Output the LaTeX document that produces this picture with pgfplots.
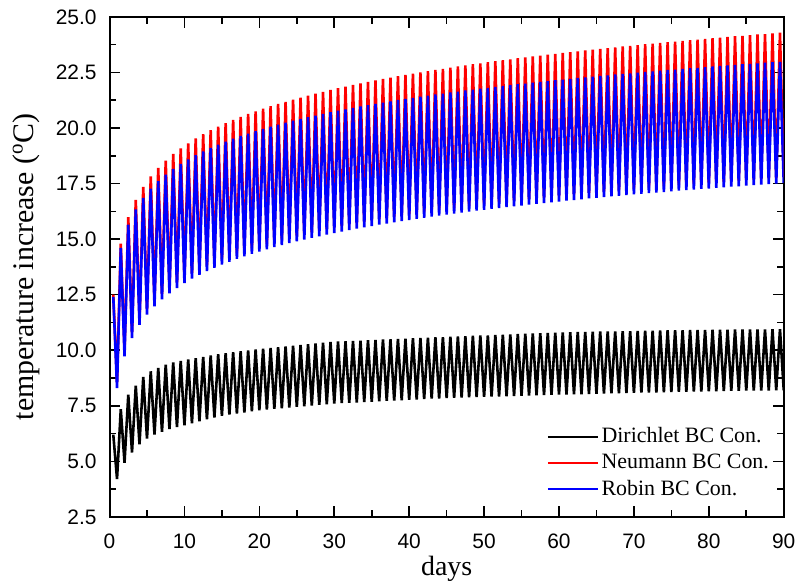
\documentclass[border=0pt]{standalone}
\usepackage{fontspec}
\setmainfont{Liberation Serif}
\setsansfont{Liberation Sans}
\usepackage{pgfplots}
\usepackage{pgfplotstable}
\pgfplotsset{compat=1.18}

% t, Dirichlet, Neumann, Robin (daily minima at whole days, maxima at half days)
\pgfplotstableread{
t d n r
0.5 6.20 12.50 12.40
1 4.20 8.55 8.30
1.5 7.35 14.80 14.60
2 4.93 9.97 9.72
2.5 8.00 15.99 15.65
3 5.40 10.80 10.55
3.5 8.40 16.77 16.34
4 5.77 11.39 11.14
4.5 8.80 17.35 16.85
5 6.02 11.85 11.60
5.5 9.05 17.82 17.27
6 6.20 12.22 11.97
6.5 9.20 18.20 17.61
7 6.33 12.54 12.29
7.5 9.35 18.53 17.90
8 6.45 12.81 12.56
8.5 9.45 18.83 18.16
9 6.54 13.05 12.80
9.5 9.52 19.08 18.38
10 6.62 13.27 13.02
10.5 9.58 19.31 18.59
11 6.71 13.47 13.22
11.5 9.64 19.53 18.78
12 6.80 13.64 13.39
12.5 9.70 19.72 18.95
13 6.89 13.81 13.56
13.5 9.76 19.90 19.11
14 6.97 13.96 13.71
14.5 9.82 20.06 19.25
15 7.05 14.10 13.85
15.5 9.87 20.22 19.39
16 7.10 14.23 13.98
16.5 9.91 20.36 19.52
17 7.15 14.36 14.11
17.5 9.95 20.50 19.64
18 7.20 14.47 14.22
18.5 9.99 20.63 19.75
19 7.25 14.59 14.34
19.5 10.03 20.75 19.86
20 7.30 14.69 14.44
20.5 10.07 20.87 19.96
21 7.33 14.79 14.54
21.5 10.10 20.98 20.06
22 7.36 14.89 14.64
22.5 10.14 21.08 20.15
23 7.39 14.98 14.73
23.5 10.17 21.18 20.24
24 7.42 15.07 14.82
24.5 10.20 21.28 20.33
25 7.45 15.15 14.90
25.5 10.24 21.37 20.41
26 7.48 15.23 14.98
26.5 10.27 21.46 20.49
27 7.51 15.31 15.06
27.5 10.30 21.55 20.56
28 7.54 15.38 15.13
28.5 10.34 21.63 20.64
29 7.57 15.45 15.20
29.5 10.37 21.71 20.71
30 7.60 15.52 15.27
30.5 10.39 21.79 20.78
31 7.62 15.59 15.34
31.5 10.40 21.86 20.84
32 7.63 15.66 15.41
32.5 10.42 21.94 20.91
33 7.65 15.72 15.47
33.5 10.43 22.01 20.97
34 7.67 15.78 15.53
34.5 10.45 22.08 21.03
35 7.68 15.84 15.59
35.5 10.46 22.14 21.09
36 7.70 15.90 15.65
36.5 10.48 22.21 21.14
37 7.72 15.95 15.70
37.5 10.49 22.27 21.20
38 7.73 16.01 15.76
38.5 10.51 22.33 21.26
39 7.75 16.06 15.81
39.5 10.52 22.39 21.31
40 7.77 16.11 15.86
40.5 10.54 22.45 21.36
41 7.78 16.16 15.91
41.5 10.55 22.50 21.41
42 7.80 16.21 15.96
42.5 10.56 22.56 21.46
43 7.82 16.26 16.01
43.5 10.58 22.61 21.51
44 7.83 16.31 16.06
44.5 10.59 22.66 21.55
45 7.85 16.35 16.10
45.5 10.61 22.72 21.60
46 7.86 16.40 16.15
46.5 10.62 22.77 21.64
47 7.87 16.44 16.19
47.5 10.63 22.82 21.69
48 7.88 16.49 16.24
48.5 10.65 22.87 21.73
49 7.89 16.53 16.28
49.5 10.66 22.91 21.77
50 7.90 16.57 16.32
50.5 10.67 22.96 21.81
51 7.91 16.61 16.36
51.5 10.69 23.01 21.85
52 7.92 16.65 16.40
52.5 10.70 23.05 21.89
53 7.93 16.69 16.44
53.5 10.71 23.09 21.93
54 7.94 16.73 16.48
54.5 10.73 23.14 21.97
55 7.95 16.76 16.51
55.5 10.74 23.18 22.00
56 7.96 16.80 16.55
56.5 10.75 23.22 22.04
57 7.97 16.84 16.59
57.5 10.77 23.26 22.08
58 7.98 16.87 16.62
58.5 10.78 23.30 22.11
59 7.99 16.91 16.66
59.5 10.79 23.34 22.15
60 8.00 16.94 16.69
60.5 10.80 23.38 22.18
61 8.01 16.98 16.73
61.5 10.81 23.42 22.21
62 8.02 17.01 16.76
62.5 10.82 23.45 22.25
63 8.02 17.04 16.79
63.5 10.82 23.49 22.28
64 8.03 17.08 16.83
64.5 10.83 23.53 22.31
65 8.04 17.11 16.86
65.5 10.84 23.56 22.34
66 8.05 17.14 16.89
66.5 10.84 23.60 22.37
67 8.06 17.17 16.92
67.5 10.85 23.63 22.41
68 8.06 17.20 16.95
68.5 10.86 23.67 22.44
69 8.07 17.23 16.98
69.5 10.86 23.70 22.46
70 8.08 17.26 17.01
70.5 10.87 23.73 22.49
71 8.09 17.29 17.04
71.5 10.88 23.77 22.52
72 8.10 17.32 17.07
72.5 10.88 23.80 22.55
73 8.10 17.34 17.09
73.5 10.89 23.83 22.58
74 8.11 17.37 17.12
74.5 10.90 23.86 22.61
75 8.12 17.40 17.15
75.5 10.90 23.89 22.63
76 8.13 17.43 17.18
76.5 10.90 23.92 22.66
77 8.13 17.46 17.21
77.5 10.91 23.95 22.69
78 8.14 17.48 17.23
78.5 10.91 23.98 22.71
79 8.14 17.51 17.26
79.5 10.91 24.01 22.74
80 8.15 17.53 17.28
80.5 10.92 24.04 22.77
81 8.15 17.56 17.31
81.5 10.92 24.07 22.79
82 8.16 17.58 17.33
82.5 10.92 24.10 22.82
83 8.17 17.61 17.36
83.5 10.93 24.13 22.84
84 8.17 17.63 17.38
84.5 10.93 24.15 22.87
85 8.18 17.66 17.41
85.5 10.93 24.18 22.89
86 8.18 17.68 17.43
86.5 10.94 24.21 22.91
87 8.19 17.71 17.46
87.5 10.94 24.23 22.94
88 8.19 17.73 17.48
88.5 10.95 24.26 22.96
89 8.20 17.75 17.50
89.5 10.95 24.29 22.98
90 8.20 17.78 17.53
}\temps

\begin{document}
\begin{tikzpicture}
\begin{axis}[
  scale only axis,
  width=338.5pt, height=251pt,
  xmin=0, xmax=90, ymin=2.5, ymax=25,
  xtick={0,10,...,90}, minor x tick num=1,
  ytick={2.5,5,...,25}, minor y tick num=1,
  tick align=inside,
  major tick length=5.5pt, minor tick length=3.3pt,
  axis line style={line width=1pt},
  every tick/.style={black, line width=0.8pt},
  /pgf/number format/assume math mode=true,
  yticklabel style={/pgf/number format/fixed, /pgf/number format/fixed zerofill, /pgf/number format/precision=1, xshift=-3pt},
  tick label style={font=\sffamily\fontsize{10.5}{12}\selectfont},
  xticklabel style={yshift=-5pt},
  xlabel={days},
  ylabel={temperature increase (\textsuperscript{o}C)},
  xlabel style={font=\fontsize{14}{16}\selectfont, at={(axis description cs:0.5,0)}, anchor=center, yshift=-26pt},
  ylabel style={font=\fontsize{15}{17}\selectfont, at={(axis description cs:0,0.5)}, anchor=center, yshift=42pt},
  legend cell align=left,
  legend style={draw=none, fill=none, font=\fontsize{11}{13}\selectfont,
    at={(axis description cs:0.648,0.03)}, anchor=south west,
    inner sep=0pt, row sep=1.3pt,
    nodes={inner sep=1.5pt}},
  legend image code/.code={\draw[#1, line width=1pt] (0pt,0pt) -- (25pt,0pt);},
]
\addplot[black, line width=1.3pt] table[x=t, y=d] {\temps};
\addplot[red, line width=1.3pt] table[x=t, y=n] {\temps};
\addplot[blue, line width=1.3pt] table[x=t, y=r] {\temps};
\legend{Dirichlet BC Con., Neumann BC Con., Robin BC Con.}
\end{axis}
\path (-55pt,-32.5pt) rectangle (346pt,259.5pt);
\end{tikzpicture}
\end{document}
